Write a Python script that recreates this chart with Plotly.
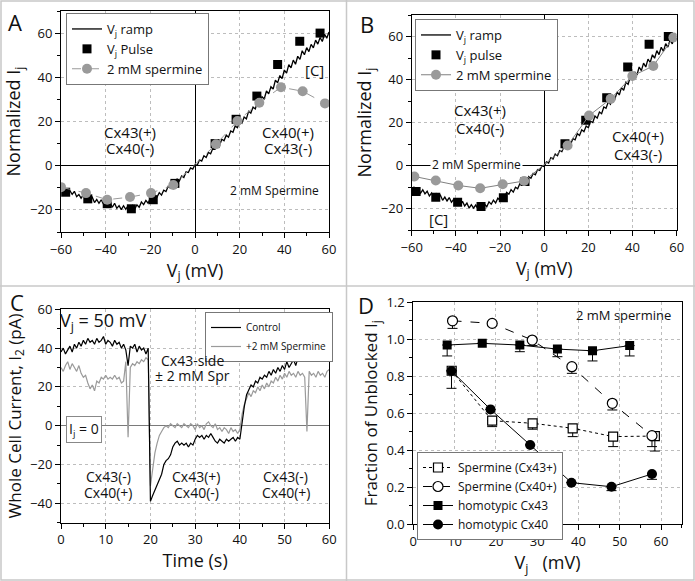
import numpy as np
import plotly.graph_objects as go

# ---------------- Panel A data ----------------
ramp_x = list(range(-60, 61))
rampA_y = [-10.0, -12.1, -11.0, -13.0, -11.3, -13.0, -11.6, -14.0, -13.0, -14.7,
           -13.2, -15.3, -13.5, -15.5, -14.3, -16.7, -15.3, -17.0, -15.4, -17.4,
           -16.1, -18.4, -16.9, -18.8, -17.0, -19.3, -18.1, -19.9, -18.1, -19.7,
           -18.1, -19.7, -18.0, -19.7, -17.7, -18.8, -16.4, -17.6, -15.7, -17.0,
           -14.7, -15.7, -13.2, -14.2, -12.2, -13.3, -11.1, -11.7, -9.3, -10.2,
           -7.7, -8.3, -6.0, -6.9, -4.6, -5.3, -2.8, -3.1, -1.0, -1.5,
           0.5, 0.2, 2.6, 2.1, 4.5, 3.7, 6.0, 5.4, 7.9, 7.5,
           9.9, 9.2, 12.0, 11.3, 13.8, 12.9, 15.7, 15.1, 18.0, 17.2,
           20.0, 19.2, 22.0, 21.2, 24.6, 23.8, 26.5, 25.7, 28.9, 28.1,
           31.2, 30.2, 33.8, 32.5, 35.7, 34.7, 38.7, 37.5, 40.8, 39.4,
           43.3, 41.9, 45.7, 44.3, 47.8, 45.9, 49.5, 48.1, 52.0, 50.2,
           53.4, 51.6, 54.9, 53.3, 56.8, 55.0, 58.0, 56.2, 59.5, 57.7,
           60.5]
pulseA_x = [-57.9, -48.0, -39.3, -28.5, -18.7, -9.0, 9.0, 18.4, 27.7, 37.0, 46.9, 56.0]
pulseA_y = [-12.0, -15.0, -17.2, -19.5, -15.4, -8.0, 10.0, 21.0, 31.5, 45.8, 56.3, 60.0]
sperA_x = [-60.0, -48.8, -39.3, -29.1, -19.7, -9.7, 9.4, 19.0, 28.8, 38.5, 48.2, 58.2]
sperA_y = [-9.7, -12.4, -15.4, -14.2, -12.4, -8.7, 9.7, 20.2, 28.5, 35.5, 33.7, 28.2]

# ---------------- Panel B data ----------------
rampB_y = [-11.5, -10.1, -12.3, -11.0, -12.9, -11.3, -13.2, -12.0, -14.2, -12.8,
           -14.6, -13.1, -15.1, -13.8, -16.2, -14.7, -16.5, -14.9, -17.1, -15.7,
           -17.9, -16.5, -18.4, -16.7, -18.8, -17.5, -19.8, -18.2, -19.8, -18.4,
           -20.2, -18.3, -20.0, -18.0, -19.2, -16.9, -18.0, -16.1, -17.4, -15.2,
           -16.2, -14.0, -14.9, -12.5, -13.4, -11.2, -12.4, -10.1, -10.8, -8.4,
           -9.1, -6.8, -7.4, -5.1, -5.9, -3.7, -4.3, -1.9, -2.3, -0.1,
           -0.5, 1.7, 1.1, 3.6, 3.0, 5.3, 4.5, 6.9, 6.4, 8.8,
           8.1, 10.7, 9.9, 12.5, 11.9, 14.8, 14.0, 16.6, 15.7, 18.4,
           17.6, 20.6, 20.0, 23.0, 22.0, 24.9, 24.1, 27.2, 26.6, 29.5,
           28.5, 31.9, 30.9, 34.2, 32.8, 36.2, 35.0, 38.7, 37.8, 41.3,
           39.7, 43.5, 42.1, 45.8, 44.1, 47.6, 45.8, 49.5, 47.9, 51.5,
           49.9, 53.4, 51.6, 55.0, 53.1, 56.7, 55.1, 58.4, 56.6, 60.1,
           58.6]
pulseB_x = [-58.0, -49.1, -39.2, -28.6, -18.5, -8.7, 9.4, 18.8, 28.3, 37.8, 47.5, 56.2]
pulseB_y = [-12.1, -14.8, -17.1, -19.1, -15.0, -7.5, 10.1, 21.0, 31.5, 45.8, 56.4, 60.0]
sperB_x = [-58.8, -49.1, -38.9, -29.0, -18.8, -9.1, 10.6, 20.3, 30.1, 39.9, 49.4, 58.5]
sperB_y = [-5.1, -7.0, -9.3, -10.6, -8.7, -7.2, 9.3, 23.2, 31.0, 41.6, 46.3, 59.5]

# ---------------- Panel C data (0.5 s sampling) ----------------
time_step = 0.5
control_I = [38, 40, 37, 39, 41, 38, 42, 40, 43, 41, 44, 42, 45, 43, 44, 42, 45, 43, 44, 46,
             42, 44, 43, 41, 44, 42, 43, 40, 42, 39, 31, 41, 40, 42, 38, 41, 39, 40, 37, 40,
             -39, -36, -33, -31, -27, -25, -20, -18, -17, -15, -11, -9, -8, -10, -9, -10, -9, -11, -9, -10,
             -7, -5, -6, -5, -7, -5, -6, -4, -6, -8, -9, -7, -8, -9, -7, -8, -7, -6, -8, -6,
             -7, 2, 10, 16, 19, 21, 20, 23, 22, 25, 24, 26, 25, 28, 26, 29, 27, 30, 28, 31,
             29, 33, 30, 32, 34, 31, 35, 33, 36, 34, 37, 35, 38, 36, 39, 37, 41, 38, 40, 37,
             39]
spermine_I = [30, 28, 31, 33, 29, 32, 30, 28, 31, 27, 25, 26, 22, 19, 21, 18, 23, 22, 25, 24,
              26, 24, 25, 24, 26, 24, 25, 22, 23, 33, -6, 30, 32, 31, 33, 32, 34, 33, 35, 34,
              -31, -22, -14, -9, -5, -3, -1, 0, -1, 1, 0, -1, 1, 0, -1, 1, 0, -1, 1, 0,
              -2, 1, -1, 0, -2, 1, 2, 0, -1, 1, -2, -1, -3, -1, -2, -4, -1, -3, -2, -4,
              -2, 6, 11, 14, 17, 15, 18, 17, 20, 18, 21, 19, 22, 20, 23, 22, 25, 23, 26, 24,
              27, 25, 28, 26, 27, 25, 28, 26, 27, 25, -3, 28, 26, 27, 25, 28, 26, 27, 25, 28,
              29]

# ---------------- Panel D data ----------------
sq_open_x = [9.3, 19.1, 28.9, 38.6, 48.4, 58.5]
sq_open_y = [0.83, 0.56, 0.546, 0.519, 0.474, 0.477]
sq_open_err = [0.0, 0.032, 0.032, 0.045, 0.054, 0.081]
ci_open_x = [9.5, 19.1, 28.8, 38.4, 48.2, 57.8]
ci_open_y = [1.10, 1.086, 0.996, 0.852, 0.654, 0.479]
ci_open_err = [0.041, 0.0, 0.03, 0.036, 0.036, 0.059]
sq_fill_x = [8.2, 16.7, 25.8, 34.9, 43.4, 52.4]
sq_fill_y = [0.969, 0.978, 0.969, 0.947, 0.938, 0.966]
sq_fill_err = [0.059, 0.0, 0.036, 0.041, 0.055, 0.056]
ci_fill_x = [9.25, 18.7, 28.3, 38.3, 48.0, 57.8]
ci_fill_y = [0.829, 0.621, 0.429, 0.225, 0.203, 0.272]
ci_fill_err = [0.094, 0.0, 0.0, 0.0, 0.021, 0.029]

FONT = "Open Sans"
GRAY = "#9a9a9a"
W, H = 695, 581

def px(x):
    return x / W

def py(y):
    return 1 - y / H

fig = go.Figure()

# Panel A traces
fig.add_trace(go.Scatter(x=ramp_x, y=rampA_y, mode="lines", name="V<sub>j</sub> ramp",
                         line=dict(color="black", width=1.3), xaxis="x", yaxis="y", legend="legend"))
fig.add_trace(go.Scatter(x=pulseA_x, y=pulseA_y, mode="markers", name="V<sub>j</sub> Pulse",
                         marker=dict(symbol="square", color="black", size=9), xaxis="x", yaxis="y", legend="legend"))
fig.add_trace(go.Scatter(x=sperA_x, y=sperA_y, mode="lines+markers", name="2 mM spermine",
                         line=dict(color=GRAY, width=1, dash="dash"),
                         marker=dict(symbol="circle", color=GRAY, size=10), xaxis="x", yaxis="y", legend="legend"))

# Panel B traces
fig.add_trace(go.Scatter(x=ramp_x, y=rampB_y, mode="lines", name="V<sub>j</sub> ramp",
                         line=dict(color="black", width=1.3), xaxis="x2", yaxis="y2", legend="legend2"))
fig.add_trace(go.Scatter(x=pulseB_x, y=pulseB_y, mode="markers", name="V<sub>j</sub> pulse",
                         marker=dict(symbol="square", color="black", size=9), xaxis="x2", yaxis="y2", legend="legend2"))
fig.add_trace(go.Scatter(x=sperB_x, y=sperB_y, mode="lines+markers", name="2 mM spermine",
                         line=dict(color="#808080", width=1),
                         marker=dict(symbol="circle", color=GRAY, size=10), xaxis="x2", yaxis="y2", legend="legend2"))

# Panel C traces
tC = [i * time_step for i in range(len(control_I))]
tS = [i * time_step for i in range(len(spermine_I))]
fig.add_trace(go.Scatter(x=tS, y=spermine_I, mode="lines", name="+2 mM Spermine",
                         line=dict(color=GRAY, width=1.2), xaxis="x3", yaxis="y3", legend="legend3",
                         legendrank=2))
fig.add_trace(go.Scatter(x=tC, y=control_I, mode="lines", name="Control",
                         line=dict(color="black", width=1.2), xaxis="x3", yaxis="y3", legend="legend3",
                         legendrank=1))

# Panel D traces
def err(a):
    return dict(type="data", symmetric=False, array=[0] * len(a), arrayminus=a,
                color="black", thickness=1, width=5)

fig.add_trace(go.Scatter(x=sq_open_x, y=sq_open_y, mode="lines+markers", name="Spermine (Cx43+)",
                         line=dict(color="black", width=1, dash="dot"),
                         marker=dict(symbol="square", color="white", size=9, line=dict(color="black", width=1.2)),
                         error_y=err(sq_open_err), xaxis="x4", yaxis="y4", legend="legend4"))
fig.add_trace(go.Scatter(x=ci_open_x, y=ci_open_y, mode="lines+markers", name="Spermine (Cx40+)",
                         line=dict(color="black", width=1, dash="dash"),
                         marker=dict(symbol="circle", color="white", size=10, line=dict(color="black", width=1.2)),
                         error_y=err(ci_open_err), xaxis="x4", yaxis="y4", legend="legend4"))
fig.add_trace(go.Scatter(x=sq_fill_x, y=sq_fill_y, mode="lines+markers", name="homotypic Cx43",
                         line=dict(color="black", width=1),
                         marker=dict(symbol="square", color="black", size=9),
                         error_y=err(sq_fill_err), xaxis="x4", yaxis="y4", legend="legend4"))
fig.add_trace(go.Scatter(x=ci_fill_x, y=ci_fill_y, mode="lines+markers", name="homotypic Cx40",
                         line=dict(color="black", width=1),
                         marker=dict(symbol="circle", color="black", size=10),
                         error_y=err(ci_fill_err), xaxis="x4", yaxis="y4", legend="legend4"))

tickfont = dict(family=FONT, size=13, color="#111")

def axis(domain, rng, dtick, minor, title, anchor, zeroline=False, zcolor="black", standoff=None, tsize=18):
    d = dict(domain=domain, range=rng, dtick=dtick, tick0=0, anchor=anchor, automargin=False,
             showline=True, linecolor="black", linewidth=1, mirror=True,
             ticks="outside", ticklen=5, tickcolor="black", tickwidth=1,
             minor=dict(dtick=minor, ticks="outside", ticklen=3, tickcolor="black", showgrid=False),
             showgrid=True, gridcolor="#bdbdbd", griddash="dot", gridwidth=1,
             zeroline=zeroline, zerolinecolor=zcolor, zerolinewidth=1,
             tickfont=tickfont, title=dict(text=title, font=dict(family=FONT, size=tsize, color="#111")))
    if standoff is not None:
        d["title"]["standoff"] = standoff
    return d

dA_x = [px(61), px(329)]
dA_y = [py(232), py(11)]
dB_x = [px(411.7), px(676.7)]
dB_y = [py(230), py(15)]
dC_x = [px(61), px(329.3)]
dC_y = [py(522.7), py(309.3)]
dD_x = [px(413.3), px(681.7)]
dD_y = [py(524.3), py(302.3)]

layout = dict(
    width=W, height=H, margin=dict(l=0, r=0, t=0, b=0),
    paper_bgcolor="white", plot_bgcolor="white",
    font=dict(family=FONT, color="#111"),
    showlegend=True,
    xaxis=axis(dA_x, [-60, 60], 20, 10, "V<sub>j</sub> (mV)", "y", True, standoff=6),
    yaxis=axis(dA_y, [-30, 70], 20, 10, "Normalized I<sub>j</sub>", "x", True, standoff=4),
    xaxis2=axis(dB_x, [-60, 60], 20, 10, "V<sub>j</sub> (mV)", "y2", True, standoff=6),
    yaxis2=axis(dB_y, [-30, 70], 20, 10, "Normalized I<sub>j</sub>", "x2", True, standoff=4),
    xaxis3=axis(dC_x, [0, 60], 10, 5, "Time (s)", "y3", False, standoff=6),
    yaxis3=axis(dC_y, [-50, 60], 20, 10, "Whole Cell Current, I<sub>2</sub> (pA)", "x3", True, "#7a7a7a",
                standoff=4, tsize=17),
    xaxis4=axis(dD_x, [0, 65], 10, 5, "V<sub>j</sub>   (mV)", "y4", False, standoff=6),
    yaxis4=axis(dD_y, [0, 1.2], 0.2, 0.1, "Fraction of Unblocked I<sub>j</sub>", "x4", False,
                standoff=4, tsize=17),
)
layout["yaxis4"]["tickformat"] = ".1f"

def leg(x, y, size):
    return dict(x=px(x), y=py(y), xanchor="left", yanchor="top", bgcolor="white",
                bordercolor="#777", borderwidth=1, font=dict(family=FONT, size=size, color="#111"),
                tracegroupgap=0, itemsizing="trace")

layout["legend"] = leg(66, 13, 13)
layout["legend2"] = leg(415, 19, 13)
layout["legend3"] = leg(205, 312, 10)
layout["legend4"] = leg(417, 452, 12)
fig.update_layout(**layout)

ann = []
def txt(text, x, y, xref, yref, size, **kw):
    d = dict(text=text, x=x, y=y, xref=xref, yref=yref, showarrow=False,
             font=dict(family=FONT, size=size, color="#111"), xanchor="center", yanchor="middle")
    d.update(kw)
    ann.append(d)

# Panel letters
txt("A", px(15), py(22), "paper", "paper", 22)
txt("B", px(367), py(24), "paper", "paper", 22)
txt("C", px(17), py(302), "paper", "paper", 22)
txt("D", px(366), py(305), "paper", "paper", 22)

# Panel A text
txt("Cx43(+)", -29, 15.4, "x", "y", 15)
txt("Cx40(-)", -29, 8.2, "x", "y", 15)
txt("Cx40(+)", 41.8, 15.4, "x", "y", 15)
txt("Cx43(-)", 41.8, 8.2, "x", "y", 15)
txt("[C]", 53.7, 43.5, "x", "y", 15)
txt("2 mM Spermine", 35.8, -11.2, "x", "y", 12)

# Panel B text
txt("Cx43(+)", -29, 26, "x2", "y2", 15)
txt("Cx40(-)", -29, 17.4, "x2", "y2", 15)
txt("Cx40(+)", 42.6, 13.5, "x2", "y2", 15)
txt("Cx43(-)", 42.6, 5.3, "x2", "y2", 15)
txt("2 mM Spermine", -30.6, 0.3, "x2", "y2", 12, bgcolor="white")
txt("[C]", -47.9, -25, "x2", "y2", 15)

# Panel C text
txt("V<sub>j</sub> = 50 mV", 9.5, 53.5, "x3", "y3", 18)
txt("Cx43-side", 29.4, 33.8, "x3", "y3", 14)
txt("± 2 mM Spr", 29.4, 26, "x3", "y3", 14)
for xc, t1, t2 in [(10.6, "Cx43(-)", "Cx40(+)"), (30.3, "Cx43(+)", "Cx40(-)"), (50.3, "Cx43(-)", "Cx40(+)")]:
    txt(t1, xc, -26.3, "x3", "y3", 14)
    txt(t2, xc, -34.4, "x3", "y3", 14)
txt("I<sub>j</sub> = 0", 5.1, -2.2, "x3", "y3", 14, bgcolor="white", bordercolor="#888", borderwidth=1, borderpad=2)

# Panel D text
txt("2 mM spermine", 50.9, 1.13, "x4", "y4", 13)

fig.update_layout(annotations=ann)

# Panel frames
shapes = [
    dict(type="rect", xref="paper", yref="paper", x0=px(1), x1=px(694), y0=py(580), y1=py(1),
         line=dict(color="#c8c8c8", width=1.5)),
    dict(type="line", xref="paper", yref="paper", x0=px(346.5), x1=px(346.5), y0=0, y1=1,
         line=dict(color="#c8c8c8", width=1.5)),
    dict(type="line", xref="paper", yref="paper", x0=0, x1=1, y0=py(286), y1=py(286),
         line=dict(color="#c8c8c8", width=1.5)),
]
fig.update_layout(shapes=shapes)

fig.write_html("out.html", config={"displayModeBar": False},
               post_script="document.body.style.margin='0';document.body.style.padding='0';")
